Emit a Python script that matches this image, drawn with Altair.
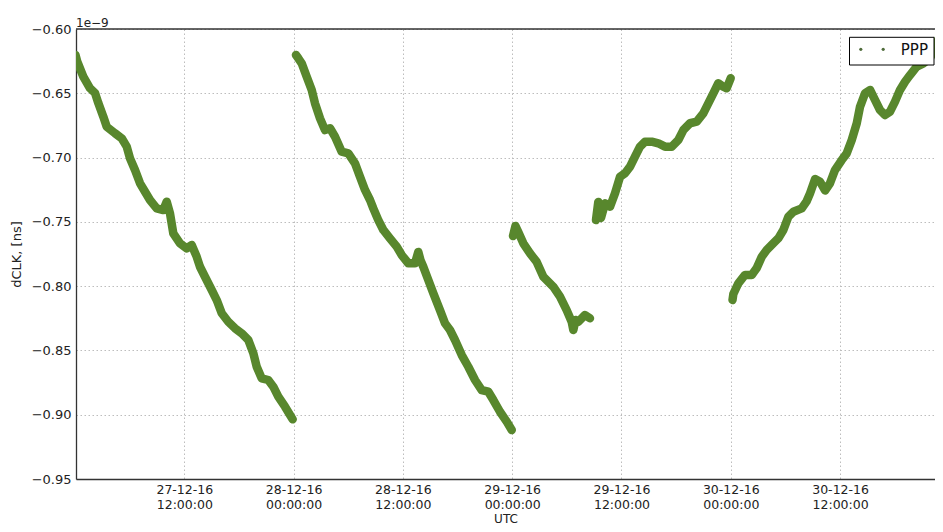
import altair as alt
import pandas as pd

# ---- data (hours since 27-12-16 00:00 UTC, clock offset in 1e-9 s) ----
seg1_h = [0.05, 0.25, 0.91, 1.65, 2.20, 2.56, 3.11, 3.48, 4.39, 5.13, 5.68, 6.04, 6.59, 7.14,
          7.69, 8.23, 8.97, 9.69, 10.07, 10.43, 10.79, 11.53, 12.26, 12.81, 13.36, 13.72, 14.27,
          15.01, 15.56, 16.11, 16.83, 17.57, 18.30, 19.03, 19.58, 19.95, 20.50, 21.22, 21.77,
          22.32, 23.06, 23.61, 23.90]
seg1_v = [-0.6202, -0.6254, -0.6371, -0.6461, -0.6498, -0.6576, -0.6682, -0.6760, -0.6811,
          -0.6850, -0.6915, -0.7006, -0.7097, -0.7200, -0.7266, -0.7330, -0.7395, -0.7408,
          -0.7343, -0.7434, -0.7589, -0.7667, -0.7706, -0.7680, -0.7771, -0.7849, -0.7927,
          -0.8030, -0.8108, -0.8211, -0.8277, -0.8328, -0.8367, -0.8419, -0.8522, -0.8627,
          -0.8717, -0.8730, -0.8782, -0.8860, -0.8938, -0.9002, -0.9036]

seg2_h = [24.26, 24.52, 24.89, 25.44, 25.99, 26.35, 26.90, 27.45, 28.00, 28.55, 29.28, 30.01,
          30.74, 31.29, 31.84, 32.39, 32.75, 33.30, 33.85, 34.58, 35.32, 35.87, 36.59, 37.33,
          37.69, 37.93, 38.24, 38.79, 39.34, 40.07, 40.62, 41.17, 41.72, 42.46, 43.18, 43.92,
          44.65, 45.38, 45.93, 46.66, 47.40, 47.95]
seg2_v = [-0.6202, -0.6228, -0.6267, -0.6371, -0.6474, -0.6578, -0.6695, -0.6786, -0.6772,
          -0.6838, -0.6954, -0.6967, -0.7045, -0.7149, -0.7252, -0.7330, -0.7395, -0.7486,
          -0.7563, -0.7628, -0.7693, -0.7758, -0.7822, -0.7822, -0.7734, -0.7797, -0.7849,
          -0.7952, -0.8056, -0.8186, -0.8289, -0.8341, -0.8419, -0.8536, -0.8627, -0.8730,
          -0.8808, -0.8821, -0.8886, -0.8977, -0.9054, -0.9119]

seg3_h = [48.09, 48.36, 48.67, 49.22, 49.96, 50.69, 51.42, 52.51, 53.25, 53.98, 54.53, 54.71,
          54.95, 55.26, 55.99, 56.54]
seg3_v = [-0.7610, -0.7532, -0.7579, -0.7667, -0.7745, -0.7812, -0.7927, -0.8004, -0.8082,
          -0.8186, -0.8277, -0.8341, -0.8263, -0.8277, -0.8225, -0.8250]

seg4_h = [57.20, 57.45, 57.75, 58.19, 58.74, 59.29, 59.84, 60.39, 60.94, 61.48, 62.03, 62.58,
          63.32, 64.04, 64.78, 65.51, 66.24, 66.79, 67.52, 68.26, 68.98, 69.53, 70.08, 70.63,
          71.18, 71.55, 71.99]
seg4_v = [-0.7486, -0.7346, -0.7470, -0.7356, -0.7382, -0.7278, -0.7149, -0.7122, -0.7071,
          -0.6993, -0.6915, -0.6876, -0.6876, -0.6889, -0.6915, -0.6915, -0.6863, -0.6786,
          -0.6733, -0.6721, -0.6656, -0.6578, -0.6500, -0.6422, -0.6449, -0.6461, -0.6383]

seg5_h = [72.19, 72.28, 72.83, 73.56, 74.30, 74.85, 75.40, 75.94, 76.67, 77.22, 77.77, 78.32,
          78.87, 79.79, 80.34, 80.70, 81.25, 81.80, 82.35, 82.89, 83.44, 84.18, 84.73, 85.28,
          85.83, 86.19, 86.74, 87.29, 87.83, 88.38, 88.93, 89.48, 90.03, 90.58, 91.13, 91.68,
          92.41, 93.14, 93.87, 94.61, 94.97]
seg5_v = [-0.8108, -0.8061, -0.7978, -0.7913, -0.7913, -0.7859, -0.7771, -0.7719, -0.7667,
          -0.7628, -0.7563, -0.7460, -0.7421, -0.7395, -0.7338, -0.7278, -0.7167, -0.7188,
          -0.7256, -0.7200, -0.7097, -0.7019, -0.6967, -0.6863, -0.6733, -0.6604, -0.6500,
          -0.6474, -0.6552, -0.6630, -0.6669, -0.6643, -0.6565, -0.6474, -0.6410, -0.6358,
          -0.6293, -0.6267, -0.6228, -0.6111, -0.6047]

series_name = "PPP"
x_domain_h = [0.11, 94.42]
x_tick_h = [12, 24, 36, 48, 60, 72, 84]
y_domain = [-0.95, -0.60]
y_ticks = [-0.95, -0.90, -0.85, -0.80, -0.75, -0.70, -0.65, -0.60]

# ---- build table ----
BASE = pd.Timestamp("2016-12-27 00:00", tz="UTC")


def ms(h):
    return int((BASE + pd.Timedelta(hours=h)).value // 10**6)


segments = [(seg1_h, seg1_v), (seg2_h, seg2_v), (seg3_h, seg3_v), (seg4_h, seg4_v), (seg5_h, seg5_v)]
rows = []
for i, (hs, vs) in enumerate(segments):
    for h, v in zip(hs, vs):
        rows.append({"t": ms(h), "v": v, "seg": i, "series": series_name})
df = pd.DataFrame(rows)

FONT = "DejaVu Sans"
GREEN = "#58872d"
W, H = 859, 450

x_enc = alt.X(
    "t:T",
    scale=alt.Scale(type="utc", domain=[ms(x_domain_h[0]), ms(x_domain_h[1])], nice=False),
    axis=alt.Axis(
        values=[ms(h) for h in x_tick_h],
        labelExpr="[utcFormat(datum.value, '%d-%m-%y'), utcFormat(datum.value, '%H:%M:%S')]",
        labelLineHeight=15.5,
        labelPadding=4,
        labelFontSize=12.5,
        labelAngle=0,
        title="UTC",
        titleY=39,
        titleFontSize=12,
        titleBaseline="middle",
    ),
)
y_enc = alt.Y(
    "v:Q",
    scale=alt.Scale(domain=y_domain, nice=False, zero=False),
    axis=alt.Axis(values=y_ticks, format=".2f", title="dCLK, [ns]", labelPadding=5, titlePadding=8),
)

lines = alt.Chart(df).mark_line(
    color=GREEN, strokeWidth=8.5, strokeCap="round", strokeJoin="round", clip=True
).encode(x=x_enc, y=y_enc, detail="seg:N")

one = pd.DataFrame({"k": [0]})
top_border = alt.Chart(one).mark_rule(color="#333333", strokeWidth=1.3).encode(
    x=alt.value(0), x2=alt.value(W), y=alt.value(0)
)
offset_text = alt.Chart(one).mark_text(
    text="1e\u22129", align="left", baseline="middle", font=FONT, fontSize=12, color="#222222"
).encode(x=alt.value(0), y=alt.value(-6.5))

# legend (drawn inside the plot's top-right corner)
LX = W - 85.5
legend_box = alt.Chart(one).mark_rect(fill="white", stroke="black", strokeWidth=1).encode(
    x=alt.value(LX), x2=alt.value(LX + 84.5), y=alt.value(8.3), y2=alt.value(36)
)
legend_dot1 = alt.Chart(one).mark_circle(size=10, color="#4f6b3a", opacity=1).encode(
    x=alt.value(LX + 11.3), y=alt.value(20.3)
)
legend_dot2 = alt.Chart(one).mark_circle(size=10, color="#4f6b3a", opacity=1).encode(
    x=alt.value(LX + 33.7), y=alt.value(20.3)
)
legend_label = alt.Chart(one).mark_text(
    text=series_name, align="left", baseline="middle", font=FONT, fontSize=15, color="#111111"
).encode(x=alt.value(LX + 51.3), y=alt.value(20.8))

chart = (
    alt.layer(lines, top_border, offset_text, legend_box, legend_dot1, legend_dot2, legend_label)
    .properties(
        width=W,
        height=H,
        autosize=alt.AutoSizeParams(type="none"),
        padding={"left": 68, "top": 21, "right": 0, "bottom": 47},
        background="white",
    )
    .configure_view(stroke=None)
    .configure_axis(
        labelFont=FONT,
        titleFont=FONT,
        labelFontSize=13,
        titleFontSize=13,
        titleFontWeight="normal",
        labelColor="#222222",
        titleColor="#222222",
        domainColor="#333333",
        domainWidth=1.3,
        ticks=False,
        grid=True,
        gridColor="#bdbdbd",
        gridDash=[1.5, 2.5],
        gridWidth=1,
    )
)

chart.save("out.html", embed_options={"renderer": "svg", "actions": False})
